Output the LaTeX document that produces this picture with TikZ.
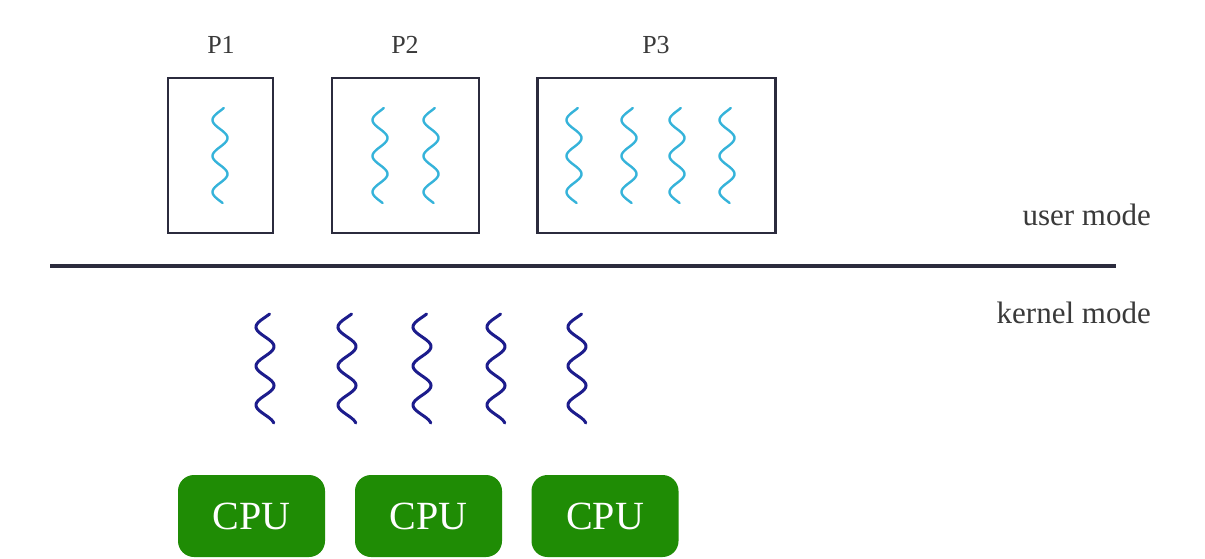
\documentclass[tikz,border=0pt]{standalone}
\usepackage{fontspec}
\setmainfont{Liberation Serif}
\definecolor{uthr}{HTML}{35B3DA}
\definecolor{kthr}{HTML}{1C1C8C}
\definecolor{boxc}{HTML}{2B2B3D}
\definecolor{cpug}{HTML}{1F8C05}
\definecolor{txt}{HTML}{3A3A3A}
\tikzset{
  procbox/.style={draw=boxc, line width=2.4pt, minimum height=155pt, inner sep=0pt},
  plabel/.style={text=txt, font=\fontsize{26}{26}\selectfont, inner sep=0pt},
  modelabel/.style={text=txt, font=\fontsize{31}{31}\selectfont, inner sep=0pt, anchor=east},
  cpubox/.style={fill=cpug, rounded corners=16pt, minimum width=147pt, minimum height=82pt, text=white, font=\fontsize{40}{40}\selectfont, inner sep=0pt},
  uthread/.pic={\draw[uthr, line width=2.4pt, line cap=round] plot[domain=0:95, samples=90, smooth] ({-7.5*sin((\x-3)*10)},\x);},
  kthread/.pic={\draw[kthr, line width=3pt, line cap=round] plot[domain=0:109, samples=100, smooth] ({-9*sin((\x-3.3)*9.2308)},\x);}
}
\begin{document}
\begin{tikzpicture}[x=1pt,y=-1pt]
\useasboundingbox[fill=white] (0,0) rectangle (1205,558);
% process boxes
\node[procbox, minimum width=105pt] (p1) at (220.5,155.5) {};
\node[procbox, minimum width=147pt] (p2) at (405.5,155.5) {};
\node[procbox, minimum width=238pt] (p3) at (656.5,155.5) {};
\node[plabel] (l1) at (221,45) {P1};
\node[plabel] (l2) at (405,45) {P2};
\node[plabel] (l3) at (656,45) {P3};
% user threads
\pic at (220,108) {uthread};
\pic at (380,108) {uthread};
\pic at (431,108) {uthread};
\pic at (574,108) {uthread};
\pic at (629,108) {uthread};
\pic at (677,108) {uthread};
\pic at (727,108) {uthread};
% separator
\coordinate (sl) at (50,266);
\coordinate (sr) at (1116,266);
\draw[boxc, line width=4pt] (sl) -- (sr);
\node[modelabel] (um) at (1151,215) {user mode};
\node[modelabel] (km) at (1151,313) {kernel mode};
% kernel threads
\pic at (265,314) {kthread};
\pic at (347,314) {kthread};
\pic at (422,314) {kthread};
\pic at (496,314) {kthread};
\pic at (577,314) {kthread};
% CPUs
\node[cpubox] (c1) at (251.5,516) {CPU};
\node[cpubox] (c2) at (428.5,516) {CPU};
\node[cpubox] (c3) at (605,516) {CPU};
\end{tikzpicture}
\end{document}
